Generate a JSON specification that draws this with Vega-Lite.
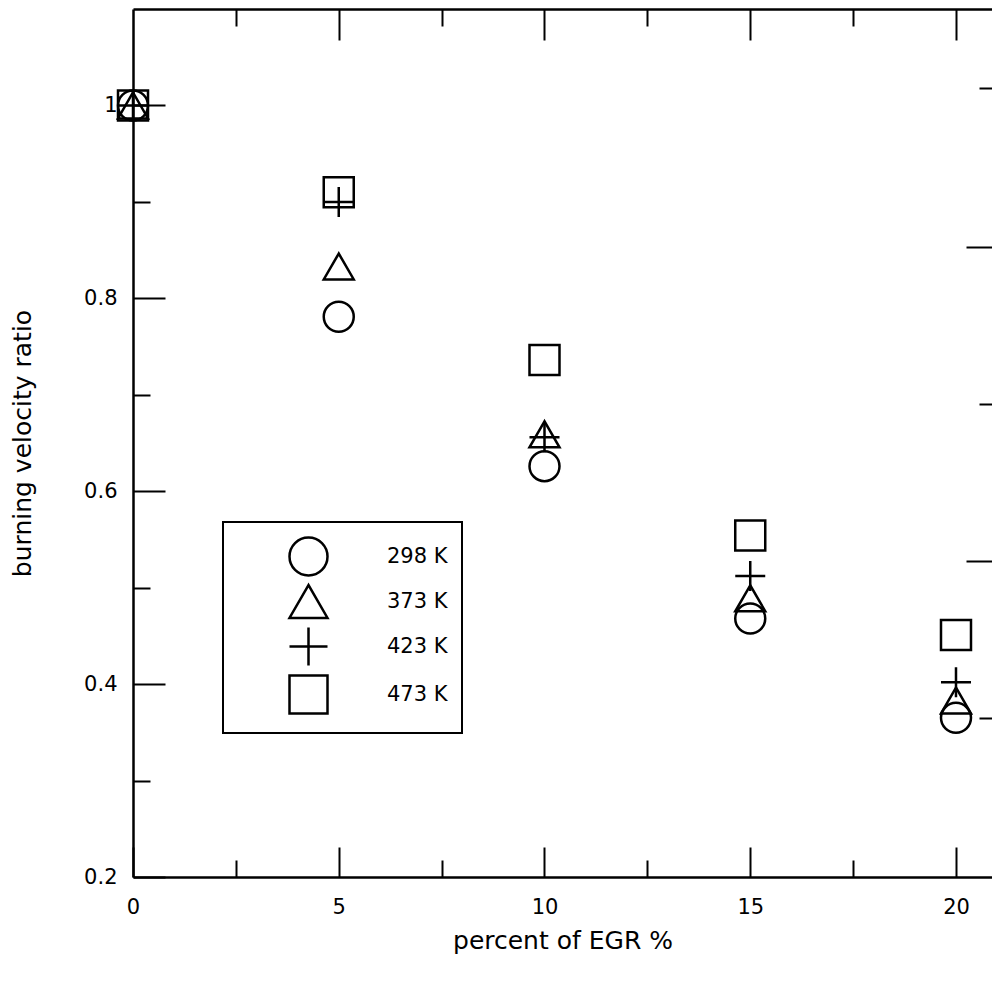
{
  "$schema": "https://vega.github.io/schema/vega-lite/v6.json",
  "width": 859,
  "height": 868,
  "autosize": {"type": "none"},
  "padding": {"left": 133, "top": 9, "right": 0, "bottom": 104},
  "background": "white",
  "data": {
    "values": [
      {"egr": 0, "ratio": 1.0, "T": "298 K"},
      {"egr": 5, "ratio": 0.781, "T": "298 K"},
      {"egr": 10, "ratio": 0.626, "T": "298 K"},
      {"egr": 15, "ratio": 0.468, "T": "298 K"},
      {"egr": 20, "ratio": 0.365, "T": "298 K"},
      {"egr": 0, "ratio": 1.0, "T": "373 K"},
      {"egr": 5, "ratio": 0.833, "T": "373 K"},
      {"egr": 10, "ratio": 0.659, "T": "373 K"},
      {"egr": 15, "ratio": 0.489, "T": "373 K"},
      {"egr": 20, "ratio": 0.383, "T": "373 K"},
      {"egr": 0, "ratio": 1.0, "T": "423 K"},
      {"egr": 5, "ratio": 0.9, "T": "423 K"},
      {"egr": 10, "ratio": 0.656, "T": "423 K"},
      {"egr": 15, "ratio": 0.512, "T": "423 K"},
      {"egr": 20, "ratio": 0.402, "T": "423 K"},
      {"egr": 0, "ratio": 1.0, "T": "473 K"},
      {"egr": 5, "ratio": 0.91, "T": "473 K"},
      {"egr": 10, "ratio": 0.736, "T": "473 K"},
      {"egr": 15, "ratio": 0.554, "T": "473 K"},
      {"egr": 20, "ratio": 0.451, "T": "473 K"}
    ]
  },
  "resolve": {"axis": {"x": "independent", "y": "independent"}},
  "layer": [
    {
      "transform": [{"filter": "datum.T == '298 K'"}],
      "mark": {"type": "point", "filled": false, "color": "black", "strokeWidth": 2.5, "size": 900, "opacity": 1},
      "encoding": {
        "x": {"field": "egr", "type": "quantitative", "scale": {"domain": [0, 20.875], "nice": false, "zero": false},
          "axis": {"orient": "bottom", "values": [0, 5, 10, 15, 20], "format": "d", "tickSize": -30, "labelPadding": 49, "labelFlush": false, "labelOverlap": false, "title": "percent of EGR %", "titlePadding": 11}},
        "y": {"field": "ratio", "type": "quantitative", "scale": {"domain": [0.2, 1.1], "nice": false, "zero": false},
          "axis": {"orient": "left", "values": [0.2, 0.4, 0.6, 0.8, 1.0], "format": ".1~f", "tickSize": -32, "labelPadding": 48, "labelFlush": false, "labelOverlap": false, "title": "burning velocity ratio", "titlePadding": 48}},
        "shape": {"field": "T", "type": "nominal",
          "scale": {"domain": ["298 K", "373 K", "423 K", "473 K"], "range": ["circle", "triangle-up", "M-1,0H1M0,-1V1", "square"]},
          "legend": {"title": null, "orient": "none", "legendX": 90, "legendY": 513, "strokeColor": "black", "padding": 14, "symbolSize": 1444, "symbolStrokeWidth": 2.5, "symbolStrokeColor": "black", "symbolFillColor": "transparent", "symbolOffset": 51, "labelOffset": 58, "labelFont": "DejaVu Sans", "labelFontSize": 21, "labelColor": "black", "rowPadding": -1}}
      }
    },
    {
      "transform": [{"filter": "datum.T == '373 K'"}],
      "mark": {"type": "point", "filled": false, "color": "black", "strokeWidth": 2.5, "size": 900, "opacity": 1},
      "encoding": {
        "x": {"field": "egr", "type": "quantitative", "scale": {"domain": [0, 20.875], "nice": false, "zero": false},
          "axis": {"orient": "bottom", "values": [2.5, 7.5, 12.5, 17.5], "tickSize": -17, "labels": false, "domain": false, "title": null}},
        "y": {"field": "ratio", "type": "quantitative", "scale": {"domain": [0.2, 1.1], "nice": false, "zero": false},
          "axis": {"orient": "left", "values": [0.3, 0.5, 0.7, 0.9], "tickSize": -17, "labels": false, "domain": false, "title": null}},
        "shape": {"field": "T", "type": "nominal", "scale": {"domain": ["298 K", "373 K", "423 K", "473 K"], "range": ["circle", "triangle-up", "M-1,0H1M0,-1V1", "square"]}, "legend": null}
      }
    },
    {
      "transform": [{"filter": "datum.T == '423 K'"}],
      "mark": {"type": "point", "filled": false, "color": "black", "strokeWidth": 2.5, "size": 900, "opacity": 1},
      "encoding": {
        "x": {"field": "egr", "type": "quantitative", "scale": {"domain": [0, 20.875], "nice": false, "zero": false},
          "axis": {"orient": "top", "values": [5, 10, 15, 20], "tickSize": -31, "labels": false, "domain": true, "title": null}},
        "y": {"field": "ratio", "type": "quantitative", "scale": {"domain": [0.2, 1.1], "nice": false, "zero": false},
          "axis": {"orient": "right", "values": [0.5275, 0.8532], "tickSize": -26, "labels": false, "domain": false, "title": null}},
        "shape": {"field": "T", "type": "nominal", "scale": {"domain": ["298 K", "373 K", "423 K", "473 K"], "range": ["circle", "triangle-up", "M-1,0H1M0,-1V1", "square"]}, "legend": null}
      }
    },
    {
      "transform": [{"filter": "datum.T == '473 K'"}],
      "mark": {"type": "point", "filled": false, "color": "black", "strokeWidth": 2.5, "size": 900, "opacity": 1},
      "encoding": {
        "x": {"field": "egr", "type": "quantitative", "scale": {"domain": [0, 20.875], "nice": false, "zero": false},
          "axis": {"orient": "top", "values": [2.5, 7.5, 12.5, 17.5], "tickSize": -17, "labels": false, "domain": false, "title": null}},
        "y": {"field": "ratio", "type": "quantitative", "scale": {"domain": [0.2, 1.1], "nice": false, "zero": false},
          "axis": {"orient": "right", "values": [0.3645, 0.6909, 1.0179], "tickSize": -13, "labels": false, "domain": false, "title": null}},
        "shape": {"field": "T", "type": "nominal", "scale": {"domain": ["298 K", "373 K", "423 K", "473 K"], "range": ["circle", "triangle-up", "M-1,0H1M0,-1V1", "square"]}, "legend": null}
      }
    }
  ],
  "config": {
    "font": "DejaVu Sans",
    "view": {"stroke": null},
    "axis": {"grid": false, "tickColor": "black", "tickWidth": 2, "domainColor": "black", "domainWidth": 2.5, "labelFont": "DejaVu Sans", "labelFontSize": 21, "labelColor": "black", "titleFont": "DejaVu Sans", "titleFontSize": 25, "titleFontWeight": "normal", "titleColor": "black"},
    "legend": {"strokeWidth": 2}
  }
}
